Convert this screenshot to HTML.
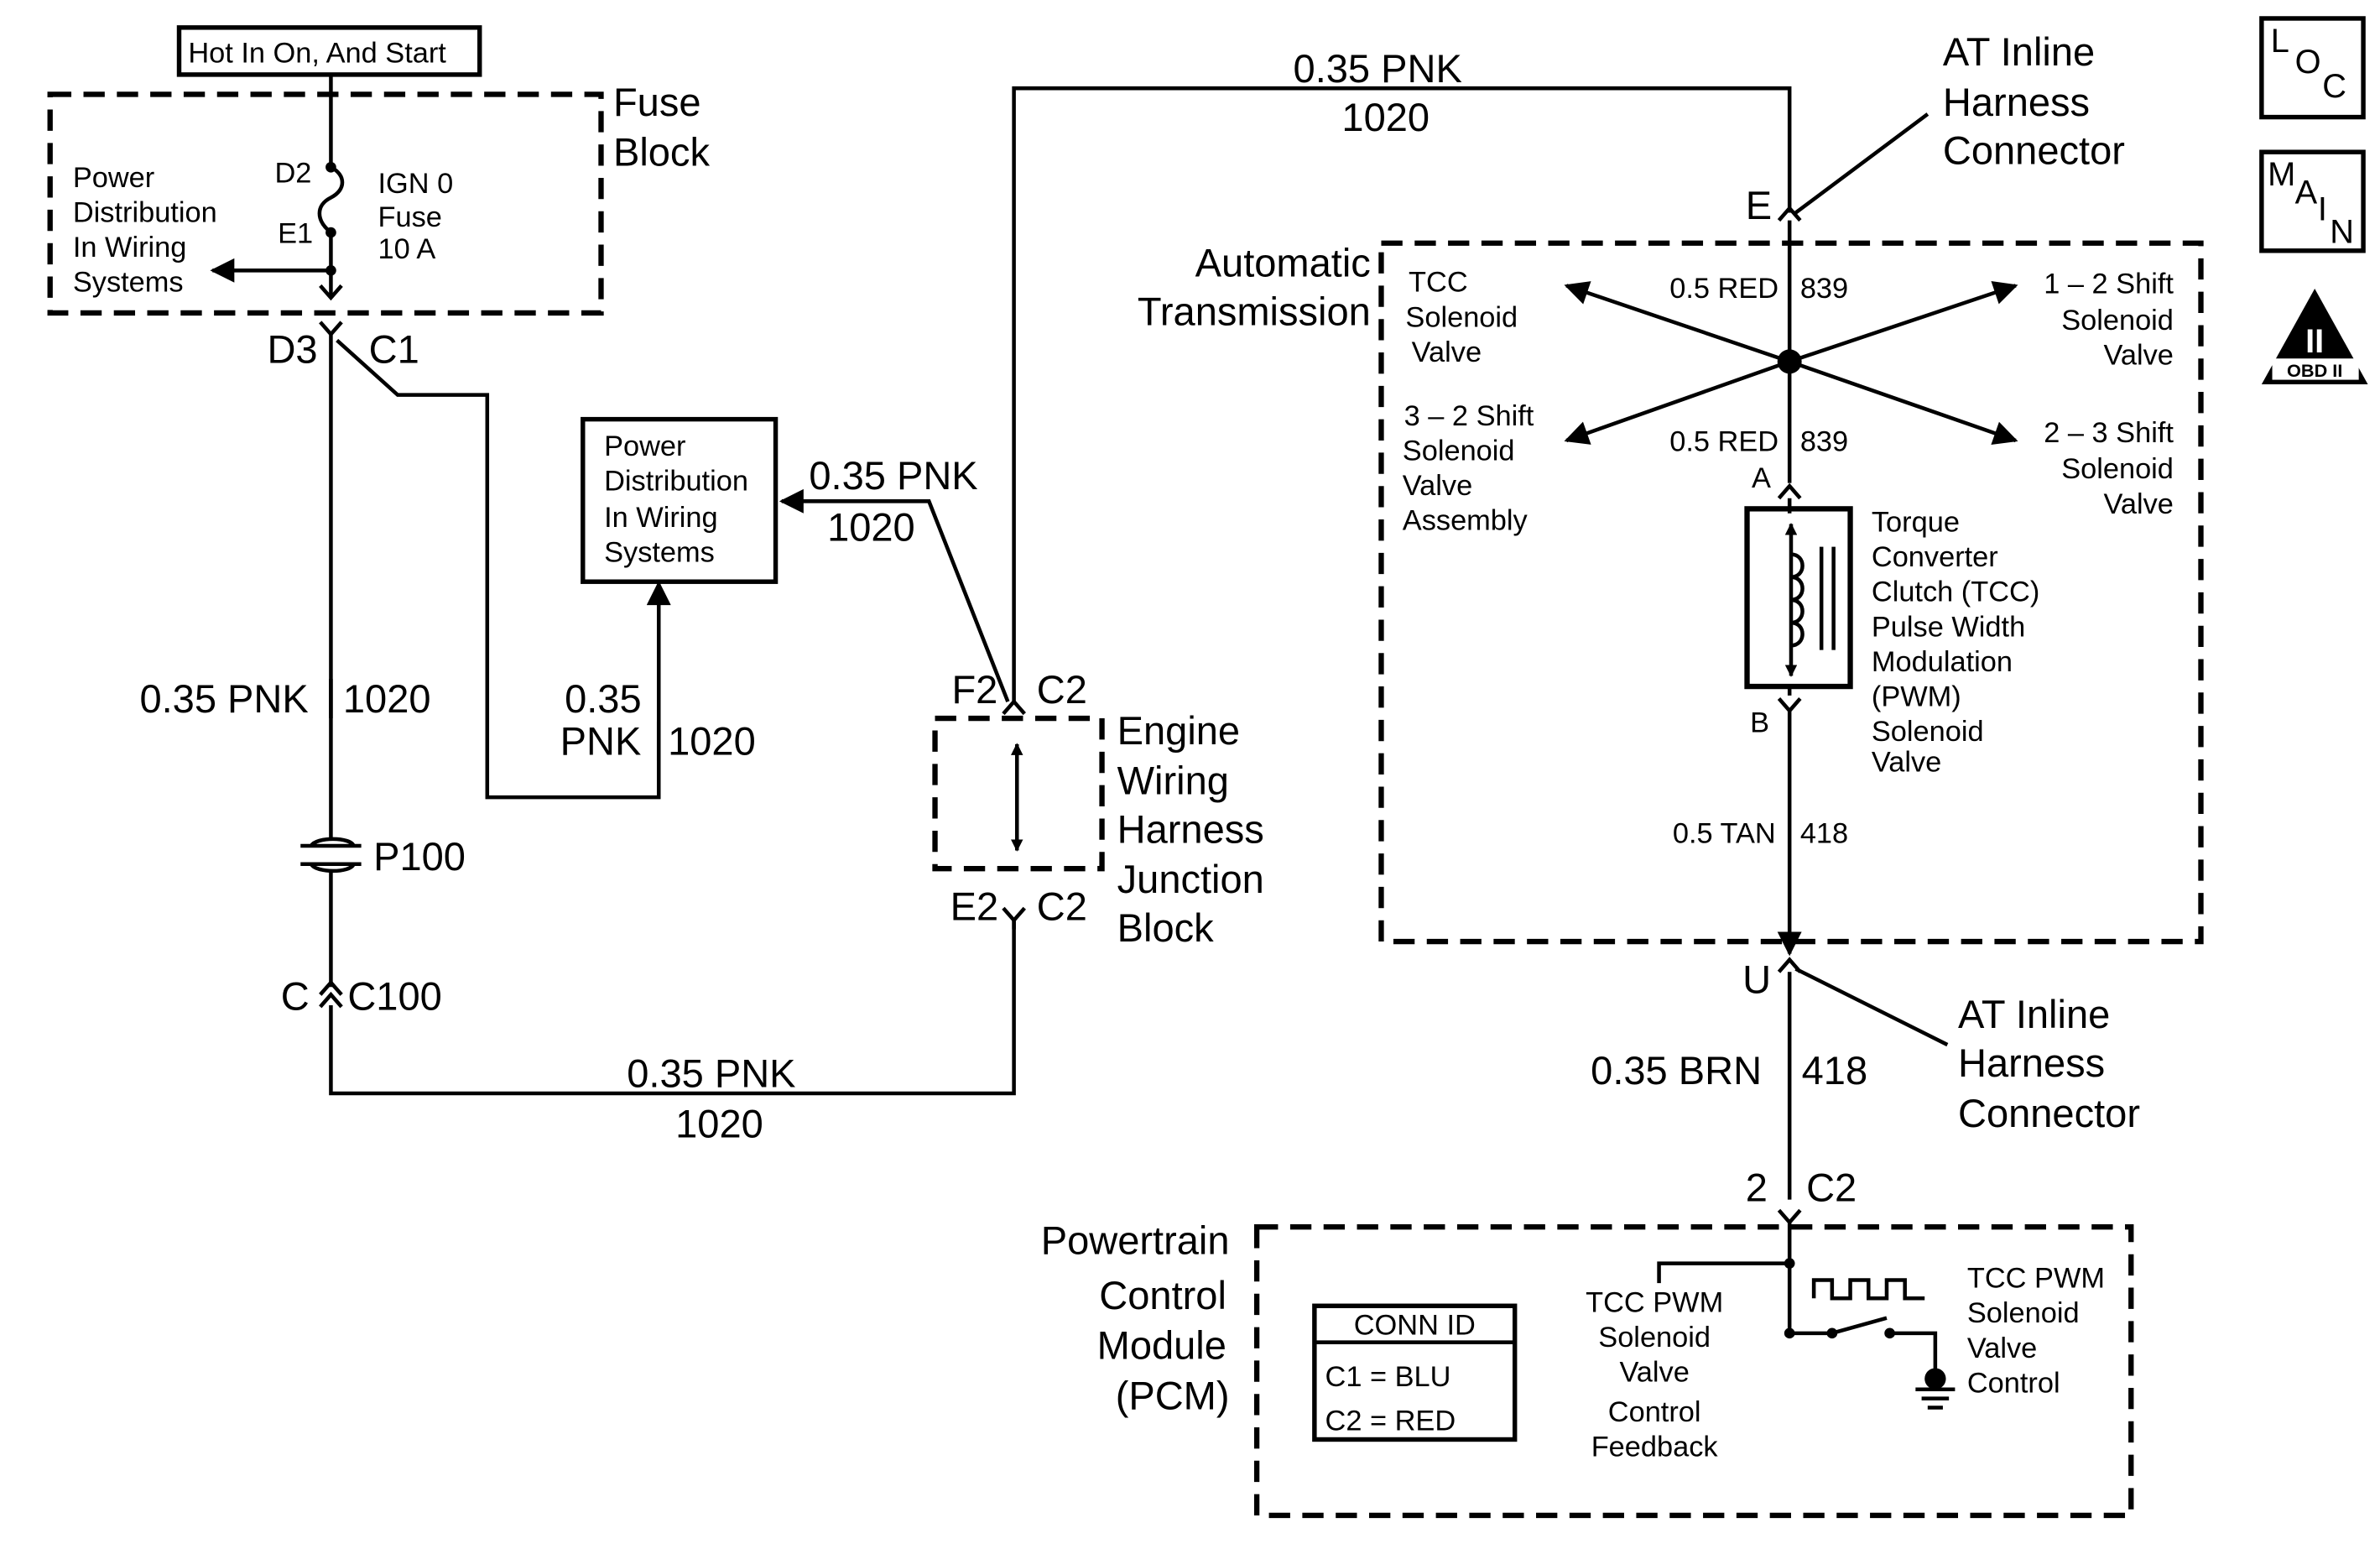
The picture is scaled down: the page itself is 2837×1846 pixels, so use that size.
<!DOCTYPE html>
<html><head><meta charset="utf-8"><style>
html,body{margin:0;padding:0;background:#fff}
svg{display:block}
text{font-family:"Liberation Sans",sans-serif;fill:#000}
.b{font-size:26px}
.s{font-size:19px}
.m{font-size:22px}
</style></head><body>
<svg width="2837" height="1846" viewBox="0 0 1568 1020" xmlns="http://www.w3.org/2000/svg">
<defs>
<marker id="ar" viewBox="0 0 10 10" refX="9" refY="5" markerWidth="8" markerHeight="8" orient="auto-start-reverse" markerUnits="userSpaceOnUse"><path d="M0,0 L10,5 L0,10 z" fill="#000"/></marker>
<marker id="ab" viewBox="0 0 10 10" refX="9" refY="5" markerWidth="20" markerHeight="16" orient="auto-start-reverse" markerUnits="userSpaceOnUse"><path d="M0,0 L10,5 L0,10 z" fill="#000"/></marker>
</defs>
<g fill="none" stroke="#000" stroke-width="2.5">
<rect x="118" y="18" width="198" height="31" stroke-width="3"/>
<rect x="33" y="62" width="363" height="144" stroke-dasharray="14,8" stroke-width="3.5"/>
<path d="M218,49 V110 M218,153 V195"/>
<path d="M218,110 c10,5 10,15 0,20 c-10,5 -10,15 0,23"/>
<path d="M218,178 H140" marker-end="url(#ab)"/>
<path d="M211,188 l7,8 l7,-8"/>
<path d="M211,212 l7,8 l7,-8"/>
<path d="M218,220 V553 M218,573 V650 M218,662 V720 H668 V605"/>
<path d="M222,224 L262,260 H321 V525 H434 V388" />
<path d="M434,386 V384" marker-end="url(#ab)"/>
<rect x="384" y="276" width="127" height="107" stroke-width="3"/>
<path d="M198,557 H238 M198,569 H238 M205,557 c3,-6 26,-6 28,0 M205,569 c3,6 26,6 28,0"/>
<path d="M211,655 l7,-8 l7,8 M211,663 l7,-8 l7,8"/>
<path d="M218,447 V473"/>
<path d="M434,475 V501"/>
<rect x="616" y="473" width="110" height="99" stroke-dasharray="14,8" stroke-width="3.5"/>
<path d="M670,490 V560" marker-start="url(#ar)" marker-end="url(#ar)"/>
<path d="M661,470 l7,-8 l7,8 M661,598 l7,8 l7,-8"/>
<path d="M668,606 V612"/>
<path d="M664,462 L612,330 H515" marker-end="url(#ab)"/>
<path d="M668,462 V58 H1179 V140"/>
<path d="M1172,145 l7,-8 l7,8 M1183,140 L1270,75"/>
<rect x="910" y="160" width="540" height="460" stroke-dasharray="14,8" stroke-width="3.5"/>
<path d="M1179,145 V318"/>
<path d="M1179,238 L1032,188" marker-end="url(#ab)"/>
<path d="M1179,238 L1328,188" marker-end="url(#ab)"/>
<path d="M1179,238 L1032,290" marker-end="url(#ab)"/>
<path d="M1179,238 L1328,290" marker-end="url(#ab)"/>
<path d="M1172,328 l7,-8 l7,8 M1179,328 V338"/>
<rect x="1151" y="335" width="68" height="117" stroke-width="3.5"/>
<path d="M1180,345 V445" marker-start="url(#ar)" marker-end="url(#ar)"/>
<path d="M1180,365 c10,0 10,15 0,15 c10,0 10,15 0,15 c10,0 10,15 0,15 c10,0 10,15 0,15"/>
<path d="M1200,360 V428 M1208,360 V428"/>
<path d="M1179,452 V458 M1172,460 l7,8 l7,-8 M1179,468 V628"/>
<path d="M1179,618 V628" marker-end="url(#ab)"/>
<path d="M1172,640 l7,-8 l7,8 M1183,638 L1283,688 M1179,640 V790"/>
<path d="M1172,797 l7,8 l7,-8 M1179,805 V830"/>
<rect x="828" y="808" width="576" height="190" stroke-dasharray="14,8" stroke-width="3.5"/>
<rect x="866" y="860" width="132" height="88" stroke-width="3"/>
<path d="M866,884 H998"/>
<path d="M1179,832 H1093 V845"/>
<path d="M1179,832 V878 H1207 L1243,868 M1245,878 H1275 V905"/>
<path d="M1195,855 V843 H1207 V855 H1219 V843 H1231 V855 H1243 V843 H1255 V855 H1268"/>
<path d="M1262,915 H1288 M1266,921 H1284 M1270,927 H1280"/>
<rect x="1490" y="12" width="67" height="65" stroke-width="3"/>
<rect x="1490" y="100" width="67" height="65" stroke-width="3"/>
</g>
<g fill="#000">
<circle cx="218" cy="110" r="3.5"/><circle cx="218" cy="153" r="3.5"/><circle cx="218" cy="178" r="3.5"/>
<circle cx="1179" cy="238" r="8"/>
<circle cx="1179" cy="832" r="3.5"/><circle cx="1179" cy="878" r="3.5"/>
<circle cx="1207" cy="878" r="3.5"/><circle cx="1245" cy="878" r="3.5"/>
<circle cx="1275" cy="908" r="7"/>
<path d="M1525,190 L1560,253 H1490 z"/>
</g>
<rect x="1497" y="236" width="57" height="14" fill="#fff"/>
<text x="1525" y="248" font-size="12" text-anchor="middle" font-weight="bold">OBD II</text>
<text x="1525" y="232" font-size="22" text-anchor="middle" font-weight="bold" style="fill:#fff">II</text>

<text class="s" x="124" y="41">Hot In On, And Start</text>
<text class="b" x="404" y="76">Fuse</text><text class="b" x="404" y="109">Block</text>
<text class="s" x="48" y="123">Power</text><text class="s" x="48" y="146">Distribution</text><text class="s" x="48" y="169">In Wiring</text><text class="s" x="48" y="192">Systems</text>
<text class="s" x="181" y="120">D2</text><text class="s" x="183" y="160">E1</text>
<text class="s" x="249" y="127">IGN 0</text><text class="s" x="249" y="149">Fuse</text><text class="s" x="249" y="170">10 A</text>
<text class="b" x="176" y="239">D3</text><text class="b" x="243" y="239">C1</text>
<text class="s" x="398" y="300">Power</text><text class="s" x="398" y="323">Distribution</text><text class="s" x="398" y="347">In Wiring</text><text class="s" x="398" y="370">Systems</text>
<text class="b" x="92" y="469">0.35 PNK</text><text class="b" x="226" y="469">1020</text>
<text class="b" x="372" y="469">0.35</text><text class="b" x="369" y="497">PNK</text><text class="b" x="440" y="497">1020</text>
<text class="b" x="246" y="573">P100</text>
<text class="b" x="185" y="665">C</text><text class="b" x="229" y="665">C100</text>
<text class="b" x="413" y="716">0.35 PNK</text><text class="b" x="445" y="749">1020</text>
<text class="b" x="533" y="322">0.35 PNK</text><text class="b" x="545" y="356">1020</text>
<text class="b" x="627" y="463">F2</text><text class="b" x="683" y="463">C2</text>
<text class="b" x="626" y="606">E2</text><text class="b" x="683" y="606">C2</text>
<text class="b" x="736" y="490">Engine</text><text class="b" x="736" y="523">Wiring</text><text class="b" x="736" y="555">Harness</text><text class="b" x="736" y="588">Junction</text><text class="b" x="736" y="620">Block</text>
<text class="b" x="852" y="54">0.35 PNK</text><text class="b" x="884" y="86">1020</text>
<text class="b" x="1280" y="43">AT Inline</text><text class="b" x="1280" y="76">Harness</text><text class="b" x="1280" y="108">Connector</text>
<text class="b" x="1150" y="144">E</text>
<text class="b" x="903" y="182" text-anchor="end">Automatic</text><text class="b" x="903" y="214" text-anchor="end">Transmission</text>
<text class="s" x="928" y="192">TCC</text><text class="s" x="926" y="215">Solenoid</text><text class="s" x="930" y="238">Valve</text>
<text class="s" x="925" y="280">3 – 2 Shift</text><text class="s" x="924" y="303">Solenoid</text><text class="s" x="924" y="326">Valve</text><text class="s" x="924" y="349">Assembly</text>
<text class="s" x="1432" y="193" text-anchor="end">1 – 2 Shift</text><text class="s" x="1432" y="217" text-anchor="end">Solenoid</text><text class="s" x="1432" y="240" text-anchor="end">Valve</text>
<text class="s" x="1432" y="291" text-anchor="end">2 – 3 Shift</text><text class="s" x="1432" y="315" text-anchor="end">Solenoid</text><text class="s" x="1432" y="338" text-anchor="end">Valve</text>
<text class="s" x="1100" y="196">0.5 RED</text><text class="s" x="1186" y="196">839</text>
<text class="s" x="1100" y="297">0.5 RED</text><text class="s" x="1186" y="297">839</text>
<text class="s" x="1154" y="321">A</text><text class="s" x="1153" y="482">B</text>
<text class="s" x="1233" y="350">Torque</text><text class="s" x="1233" y="373">Converter</text><text class="s" x="1233" y="396">Clutch (TCC)</text><text class="s" x="1233" y="419">Pulse Width</text><text class="s" x="1233" y="442">Modulation</text><text class="s" x="1233" y="465">(PWM)</text><text class="s" x="1233" y="488">Solenoid</text><text class="s" x="1233" y="508">Valve</text>
<text class="s" x="1102" y="555">0.5 TAN</text><text class="s" x="1186" y="555">418</text>
<text class="b" x="1148" y="654">U</text>
<text class="b" x="1290" y="677">AT Inline</text><text class="b" x="1290" y="709">Harness</text><text class="b" x="1290" y="742">Connector</text>
<text class="b" x="1048" y="714">0.35 BRN</text><text class="b" x="1187" y="714">418</text>
<text class="b" x="1150" y="791">2</text><text class="b" x="1190" y="791">C2</text>
<text class="b" x="810" y="826" text-anchor="end">Powertrain</text><text class="b" x="808" y="862" text-anchor="end">Control</text><text class="b" x="808" y="895" text-anchor="end">Module</text><text class="b" x="810" y="928" text-anchor="end">(PCM)</text>
<text class="s" x="932" y="879" text-anchor="middle">CONN ID</text>
<text class="s" x="873" y="913">C1 = BLU</text><text class="s" x="873" y="942">C2 = RED</text>
<text class="s" x="1090" y="864" text-anchor="middle">TCC PWM</text><text class="s" x="1090" y="887" text-anchor="middle">Solenoid</text><text class="s" x="1090" y="910" text-anchor="middle">Valve</text><text class="s" x="1090" y="936" text-anchor="middle">Control</text><text class="s" x="1090" y="959" text-anchor="middle">Feedback</text>
<text class="s" x="1296" y="848">TCC PWM</text><text class="s" x="1296" y="871">Solenoid</text><text class="s" x="1296" y="894">Valve</text><text class="s" x="1296" y="917">Control</text>
<text class="m" x="1496" y="34">L</text><text class="m" x="1512" y="48">O</text><text class="m" x="1530" y="64">C</text>
<text class="m" x="1494" y="122">M</text><text class="m" x="1512" y="134">A</text><text class="m" x="1527" y="145">I</text><text class="m" x="1535" y="160">N</text>
</svg>
</body></html>
